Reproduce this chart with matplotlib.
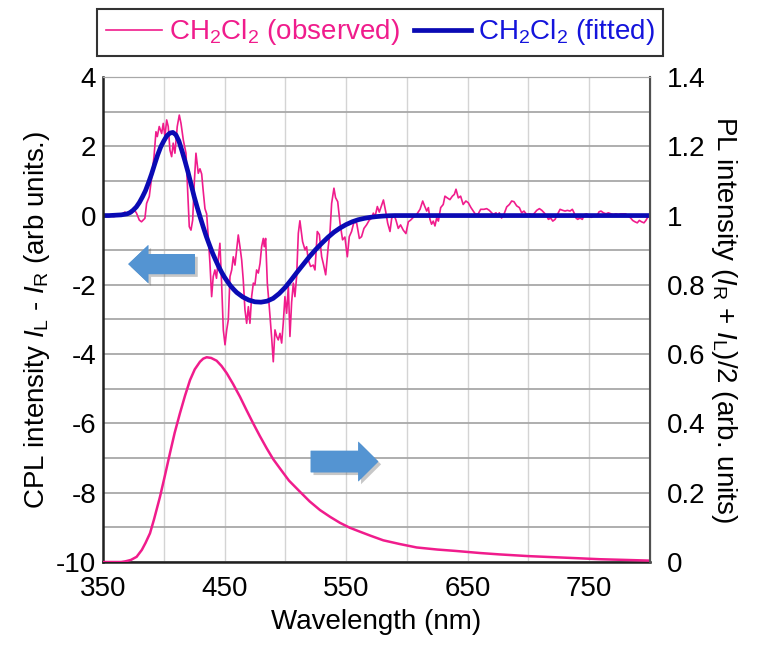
import matplotlib
matplotlib.use("Agg")
import matplotlib.pyplot as plt
from matplotlib.patches import FancyArrow
from matplotlib.ticker import MultipleLocator
import matplotlib.patheffects as pe

plt.rcParams['font.family'] = ['Liberation Sans', 'DejaVu Sans']
plt.rcParams['mathtext.fontset'] = 'custom'
plt.rcParams['mathtext.rm'] = 'Liberation Sans'
plt.rcParams['mathtext.it'] = 'Liberation Sans:italic'

# CPL observed (nm, arb units)
obs_wl = [350, 353, 356, 359, 362, 365, 368, 370, 372, 374, 375, 377.6, 379.9, 381.7,
          384.5, 385.9, 388.1, 390.1, 392, 393.6, 394.7, 396.3, 398.3, 399.6, 401, 402.4,
          403.7, 405.1, 406.5, 407.8, 409.2, 411.1, 412.8, 414.2, 416.1, 418.3, 419.4,
          421, 422.4, 423.8, 425.1, 426.5, 428.4, 429.8, 431.2, 432.5, 433.9, 435.3,
          436.6, 438, 439.4, 440.7, 442.1, 443.4, 444.8, 446.2, 447.6, 449, 450.4, 451.8,
          453.1, 454.5, 455.9, 457.2, 458.6, 460, 461.3, 462.7, 464.1, 465.4, 466.8,
          468.2, 469.6, 470.9, 472.3, 473.7, 475, 476.4, 477.8, 479.2, 480.5, 481.9,
          482.7, 483.8, 485.2, 486.8, 488.8, 490.1, 491.5, 492.9, 494.2, 495.6, 497,
          498.3, 499.7, 501.1, 502.5, 503.8, 505.2, 506.6, 507.9, 509.3, 510.7, 512,
          514.2, 516.2, 517.5, 518.9, 520.8, 523, 524.4, 526.3, 528, 529.9, 531.2, 533.2,
          535.3, 536.7, 538.1, 540, 541.3, 543.1, 545, 547.1, 549, 551, 552.6, 554.5,
          556.5, 558.7, 560.9, 562.7, 564.7, 566.8, 569.1, 570.9, 572.4, 573.8, 575.7,
          577.3, 579.3, 580.7, 582.6, 584.2, 586.1, 587.5, 589.4, 591, 592.9, 594.8, 597,
          599.2, 601.2, 603.1, 605.3, 608, 610.8, 613, 614.3, 616.3, 617.7, 619, 620.3,
          621.7, 623.1, 624.5, 625.9, 627.8, 629.9, 631.3, 633.2, 635.4, 637.4, 639,
          640.4, 642.3, 644.2, 646.3, 648.5, 650.5, 652.7, 654.6, 656.5, 658.7, 660.7,
          663.4, 665.6, 667.8, 669.7, 671.1, 673.3, 674.6, 676, 677.9, 679.8, 682.1,
          684.3, 686.2, 688.1, 690.3, 692.5, 694.4, 696.3, 698.5, 700.7, 702.6, 704,
          706.8, 709, 711, 712.9, 715, 716.4, 718.3, 720, 721.9, 723.8, 726, 728.2, 730.1,
          732, 734.2, 736.1, 737.5, 739.1, 740.5, 742.4, 744.3, 746, 747.9, 750.1, 752,
          754, 756.1, 758.1, 759.7, 761.6, 763.8, 765.7, 767.9, 769.8, 772, 774, 775.9,
          778.1, 780, 782.2, 784.1, 785.7, 787.6, 789.5, 791.2, 793, 795, 796.6, 798.5, 800]
obs_cpl = [0.0, -0.03, -0.01, -0.03, 0.0, 0.02, 0.1, 0.05, 0.12, 0.08, 0.21, 0.07, -0.13, -0.18,
           -0.08, 0.35, 0.55, 1.12, 1.7, 2.42, 2.28, 2.57, 2.37, 2.66, 2.28, 2.76,
           2.57, 1.89, 1.7, 2.09, 1.8, 2.57, 2.9, 2.66, 2.18, 1.8, 0.93,
           -0.32, -0.42, -0.13, 0.93, 1.8, 1.22, 1.35, 1.2, 0.7, 0.2, 0.05,
           -0.6, -1.37, -2.34, -1.76, -1.57, -1.81, -1.28, -0.8, -1.95, -3.3, -3.73, -3.3,
           -3.01, -1.76, -1.57, -1.19, -1.43, -0.99, -0.56, -0.9, -1.28, -1.86, -2.72,
           -3.11, -2.63, -3.11, -2.34, -1.95, -2.0, -1.57, -1.66, -1.38, -0.9, -0.66,
           -0.9, -0.66, -1.95, -2.63, -3.54, -4.22, -3.3, -3.49, -3.59, -3.4, -3.68,
           -3.11, -2.34, -2.82, -2.03, -3.49, -2.5, -1.95, -2.34, -1.76, -0.51, -0.15,
           -0.75, -0.99, -0.9, -1.28, -1.47, -1.43, -1.57, -0.46, -0.55, -1.19, -1.38, -1.71,
           -0.9, -0.51, 0.35, 0.79, 0.52, 0.4, -0.22, -0.7, -0.62, -1.19, -0.61, -0.46,
           -0.18, -0.22, -0.66, -0.61, -0.37, -0.27, -0.13, -0.08, 0.07, -0.03, 0.26,
           0.1, 0.31, 0.45, 0.11, -0.22, -0.46, -0.08, 0.02, -0.13, -0.37, -0.27, -0.42,
           -0.52, -0.18, -0.13, -0.05, 0.03, 0.18, 0.42, 0.3, 0.13, 0.23, -0.11, -0.25,
           -0.16, -0.3, -0.07, -0.16, 0.23, 0.32, 0.56, 0.51, 0.46, 0.56, 0.61,
           0.76, 0.51, 0.56, 0.32, 0.42, 0.37, 0.23, 0.13, 0.03, 0.05, 0.18,
           0.18, 0.2, 0.15, 0.08, 0.03, 0.08, -0.02, 0.08, -0.07, 0.03, 0.25,
           0.32, 0.42, 0.4, 0.28, 0.23, 0.08, 0.13, 0.03, 0.05, 0.03, 0.03,
           0.15, 0.2, 0.15, 0.08, -0.01, -0.11, -0.07, -0.16, -0.11, 0.03, 0.18, 0.15, 0.13,
           0.15, 0.13, 0.18, 0.08, -0.07, -0.11, -0.07, -0.11, 0.03, 0.05, -0.04, -0.05,
           0.0, -0.02, 0.11, 0.13, 0.08, 0.05, 0.08, 0.05, 0.03, 0.05, 0.03, 0.05,
           0.05, 0.05, -0.02, -0.07, -0.14, -0.18, -0.21, -0.14, -0.18, -0.21, -0.14, -0.02, 0.05]

# CPL fitted
fit_wl = [350, 355, 360, 365, 370, 372.5, 375, 377.5, 380, 382.5, 385, 387.5, 390, 392.5,
          395, 397.5, 400, 402.5, 405, 407.5, 410, 412.5, 415, 417.5, 420, 422.5, 425,
          427.5, 430, 432.5, 435, 437.5, 440, 442.5, 445, 447.5, 450, 452.5, 455, 457.5,
          460, 465, 470, 475, 480, 485, 490, 495, 500, 505, 510, 515, 520, 525, 530, 535,
          540, 545, 550, 555, 560, 565, 570, 575, 580, 585, 590, 800]
fit_cpl = [0.0, 0.0, 0.01, 0.02, 0.05, 0.09, 0.16, 0.25, 0.38, 0.54, 0.72, 0.95, 1.2, 1.48,
           1.75, 1.98, 2.15, 2.3, 2.38, 2.4, 2.33, 2.15, 1.87, 1.57, 1.25, 0.9, 0.55,
           0.24, -0.05, -0.33, -0.6, -0.84, -1.07, -1.27, -1.46, -1.63, -1.78, -1.91, -2.03, -2.13,
           -2.22, -2.35, -2.44, -2.49, -2.5, -2.47, -2.39, -2.25, -2.07, -1.85, -1.62, -1.4,
           -1.18, -0.98, -0.8, -0.63, -0.48, -0.36, -0.26, -0.18, -0.12, -0.08, -0.05, -0.03,
           -0.015, -0.005, 0.0, 0.0]

# PL intensity (right axis)
pl_wl = [350, 365, 368.5, 373, 377.7, 382, 385, 388.7, 392, 396.9, 401, 405.1, 409, 413.3,
         417.5, 421.6, 425.5, 429.8, 432.5, 435.3, 439, 443.5, 447.5, 451.8, 457, 462.7,
         468, 473.6, 479, 484.7, 490, 495.6, 503, 512, 520, 528.5, 537, 545, 553, 561.4,
         570, 580.6, 594, 608, 625, 640, 660, 676, 700, 720, 740, 759, 780, 800]
pl_int = [0.0, 0.0, 0.002, 0.006, 0.015, 0.035, 0.055, 0.083, 0.123, 0.188, 0.25, 0.314,
          0.373, 0.429, 0.48, 0.525, 0.556, 0.578, 0.587, 0.591, 0.589, 0.581, 0.566, 0.545,
          0.514, 0.477, 0.439, 0.40, 0.364, 0.328, 0.297, 0.27, 0.235, 0.203, 0.175, 0.15,
          0.13, 0.113, 0.099, 0.0875, 0.076, 0.0626, 0.052, 0.042, 0.036, 0.032, 0.026,
          0.022, 0.017, 0.014, 0.011, 0.008, 0.006, 0.004]

pink = '#f01c8c'
blue = '#0a0ab4'
arrow_col = '#5494d2'

fig = plt.figure(figsize=(7.57, 6.48), dpi=100)
ax = fig.add_axes([0.136, 0.1327, 0.7227, 0.7485])
ax2 = ax.twinx()

lab = r'CH$_\mathregular{2}$Cl$_\mathregular{2}$'
l1, = ax.plot(obs_wl, obs_cpl, color=pink, lw=1.2, label=lab + ' (observed)')
l2, = ax.plot(fit_wl, fit_cpl, color=blue, lw=3.4, label=lab + ' (fitted)',
              solid_joinstyle='round')
ax2.plot(pl_wl, pl_int, color=pink, lw=1.8)

ax.set_xlim(350, 800)
ax.set_ylim(-10, 4)
ax2.set_ylim(0, 1.4)
ax.xaxis.set_minor_locator(MultipleLocator(50))
ax.yaxis.set_minor_locator(MultipleLocator(1))
ax.set_xticks([350, 450, 550, 650, 750])
ax.set_yticks([-10, -8, -6, -4, -2, 0, 2, 4])
ax.set_yticklabels(['-10', '-8', '-6', '-4', '-2', '0', '2', '4'])
ax2.set_yticks([0, 0.2, 0.4, 0.6, 0.8, 1.0, 1.2, 1.4])
ax2.set_yticklabels(['0', '0.2', '0.4', '0.6', '0.8', '1', '1.2', '1.4'])

ax.grid(True, axis='y', which='both', color='#a8a8a8', lw=1.3)
ax.grid(True, axis='x', which='both', color='#d4d4d4', lw=1.0)
ax.set_axisbelow(True)

for a in (ax, ax2):
    a.tick_params(axis='both', which='both', length=0, labelsize=20)
ax.tick_params(axis='y', pad=5)
ax.tick_params(axis='x', pad=10)
ax2.tick_params(axis='y', pad=12)
for s in ('left', 'bottom'):
    ax.spines[s].set_linewidth(1.8)
    ax.spines[s].set_color('#202020')
ax2.spines['left'].set_visible(False)
ax2.spines['bottom'].set_visible(False)
ax2.spines['right'].set_color('#505050')
ax2.spines['right'].set_linewidth(1.5)
ax2.spines['top'].set_color('#a8a8a8')
ax.spines['top'].set_color('#a8a8a8')

ax.set_xlabel('Wavelength (nm)', fontsize=20, labelpad=5)
ax.set_ylabel(r'CPL intensity $\mathit{I}_\mathregular{L}$ - $\mathit{I}_\mathregular{R}$ (arb units.)',
              fontsize=20, labelpad=3)
ax2.set_ylabel(r'PL intensity ($\mathit{I}_\mathregular{R}$ + $\mathit{I}_\mathregular{L}$)/2 (arb. units)',
               fontsize=20, rotation=270, labelpad=24)

shadow = [pe.withSimplePatchShadow(offset=(2, -2), shadow_rgbFace='#606060', alpha=0.35), pe.Normal()]
arr1 = FancyArrow(425.7, -1.4, -54.9, 0, width=0.58, head_width=1.1, head_length=16.5,
                  length_includes_head=True, color=arrow_col, lw=0, zorder=5)
arr2 = FancyArrow(520.9, -7.1, 55.6, 0, width=0.62, head_width=1.15, head_length=16.5,
                  length_includes_head=True, color=arrow_col, lw=0, zorder=5)
for arr in (arr1, arr2):
    arr.set_path_effects(shadow)
    ax2.add_patch(arr)
    arr.set_transform(ax.transData)

leg = fig.legend(handles=[l1, l2], loc='center', bbox_to_anchor=(0.502, 0.95), ncol=2,
                 fontsize=20, frameon=True, fancybox=False, edgecolor='black',
                 handlelength=2.05, handletextpad=0.25, columnspacing=0.5, borderpad=0.3,
                 borderaxespad=0)
leg.get_frame().set_linewidth(1.5)
for t, c in zip(leg.get_texts(), [pink, '#1414dc']):
    t.set_color(c)

fig.savefig('out.png', dpi=100)
